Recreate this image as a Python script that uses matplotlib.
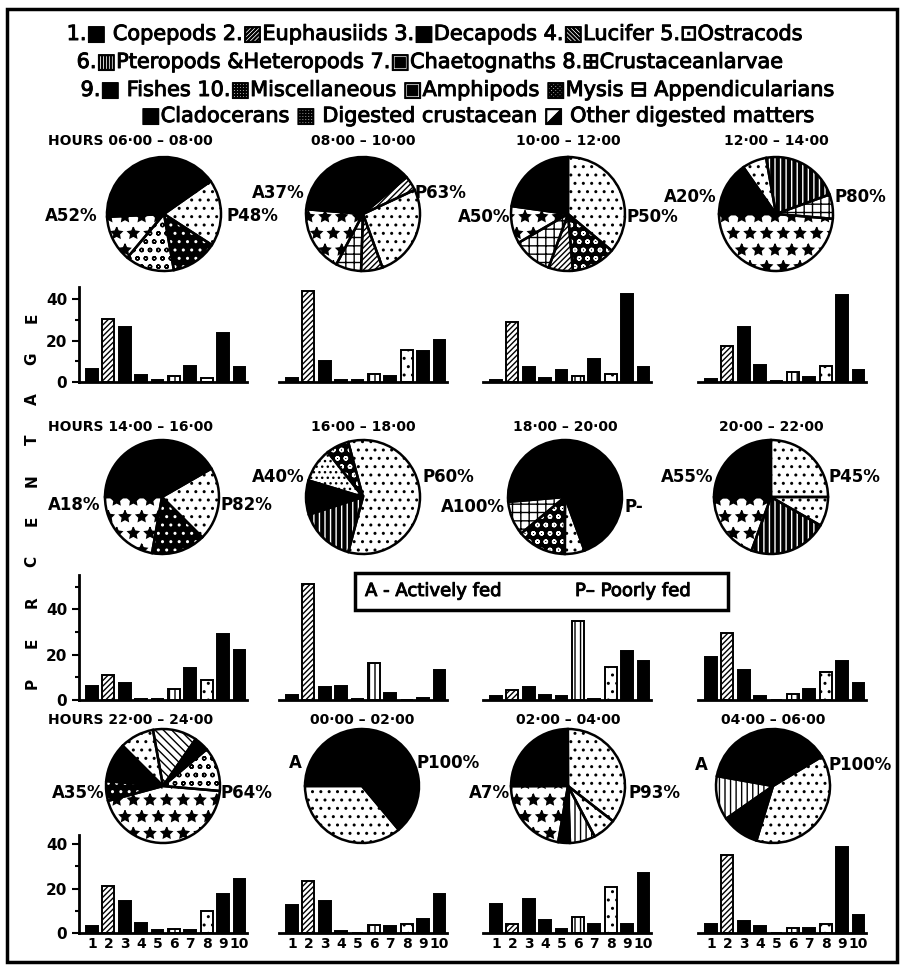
# Diet composition by 2-hour window: pie (A/P feeding) + bar chart of food items
import matplotlib
matplotlib.use("Agg")
import matplotlib.pyplot as plt
import matplotlib.patheffects as pe
from matplotlib.patches import Rectangle

plt.rcParams['font.family'] = ['DejaVu Sans']
plt.rcParams['hatch.linewidth'] = 1.0

W, H = 902, 967

# ---- text ----
legend_lines = [
    "1.■ Copepods 2.▨Euphausiids 3.■Decapods 4.▧Lucifer 5.⊡Ostracods",
    "6.▥Pteropods &Heteropods 7.▣Chaetognaths 8.⊞Crustaceanlarvae",
    "9.■ Fishes 10.▦Miscellaneous ▣Amphipods ▩Mysis ⊟ Appendicularians",
    "■Cladocerans ▦ Digested crustacean ◪ Other digested matters",
]
hours = ["HOURS 06·00 – 08·00", "08·00 – 10·00", "10·00 – 12·00", "12·00 – 14·00",
         "HOURS 14·00 – 16·00", "16·00 – 18·00", "18·00 – 20·00", "20·00 – 22·00",
         "HOURS 22·00 – 24·00", "00·00 – 02·00", "02·00 – 04·00", "04·00 – 06·00"]
active = ["A52%", "A37%", "A50%", "A20%", "A18%", "A40%", "A100%", "A55%",
          "A35%", "A", "A7%", "A"]
poor = ["P48%", "P63%", "P50%", "P80%", "P82%", "P60%", "P-", "P45%",
        "P64%", "P100%", "P93%", "P100%"]
categories = ["1", "2", "3", "4", "5", "6", "7", "8", "9", "10"]

# ---- bar values (% of items 1..10) ----
bars_0608 = [6.4, 30.5, 26.5, 3.5, 1, 2.9, 7.7, 2, 23.6, 7.2]
bars_0810 = [2, 44, 10, 1, 1, 4, 2.7, 15.6, 15, 20.4]
bars_1012 = [1, 29, 7, 2, 6, 2.7, 11, 3.7, 42.5, 7]
bars_1214 = [1.3, 17.3, 26.5, 8, 0.5, 4.8, 2.4, 7.7, 41.7, 5.6]
bars_1416 = [6, 11, 7.5, 0.3, 0.3, 5, 14, 9, 29, 22]
bars_1618 = [2.4, 51, 5.6, 6.3, 0.5, 16.5, 3, 0.2, 0.7, 13]
bars_1820 = [1.9, 4.4, 5.6, 2.4, 1.9, 35, 0.3, 14.4, 21.8, 17]
bars_2022 = [18.8, 29.5, 13.2, 1.9, 0.2, 2.6, 4.9, 12.2, 17, 7.4]
bars_2224 = [3, 21, 14.6, 4.7, 1.5, 2, 1.5, 10, 17.6, 24.5]
bars_0002 = [12.7, 23.3, 14.5, 1, 0.2, 3.5, 3, 4, 6.5, 17.6]
bars_0204 = [13, 4.2, 15.3, 5.8, 1.7, 7.3, 3.9, 20.6, 3.9, 27]
bars_0406 = [4.2, 35, 5.2, 3.2, 0.2, 2.4, 2.1, 4.2, 38.8, 8.2]
bar_sets = [bars_0608, bars_0810, bars_1012, bars_1214, bars_1416, bars_1618,
            bars_1820, bars_2022, bars_2224, bars_0002, bars_0204, bars_0406]

# ---- pie shares (%), counter-clockwise from start angle ----
pie_0608 = [13.9, 13.1, 18.9, 41.1, 13.1]
pie_0810 = [26.4, 4.2, 37.5, 18.6, 7.2, 6.1]
pie_1012 = [36.1, 22.8, 10.6, 11.1, 6.9, 12.5]
pie_1214 = [48.6, 6.9, 22.2, 6.9, 15.3]
pie_1416 = [20.8, 41.7, 22.2, 15.3]
pie_1618 = [58.3, 6.4, 9.7, 9.7, 15.8]
pie_1820 = [70.8, 9.7, 13.9, 5.6]
pie_2022 = [25, 25, 19.4, 22.2, 8.3]
pie_2224 = [12.5, 4.2, 12.5, 9.7, 11.1, 5.6, 44.4]
pie_0002 = [63.9, 36.1]
pie_0204 = [35.6, 25, 22.2, 3.3, 7.2, 6.7]
pie_0406 = [38.6, 12.5, 10.6, 38.3]
pie_sets = [pie_0608, pie_0810, pie_1012, pie_1214, pie_1416, pie_1618,
            pie_1820, pie_2022, pie_2224, pie_0002, pie_0204, pie_0406]
pie_fills = [
    ['circles', 'speckle', 'dots', 'black', 'stars'],
    ['dots', 'hatch', 'black', 'stars', 'grid', 'hatch'],
    ['dots', 'black', 'stars', 'grid', 'hatch', 'checker'],
    ['stars', 'grid', 'wavy', 'dots', 'black'],
    ['dots', 'black', 'stars', 'speckle'],
    ['dots', 'checker', 'densedots', 'black', 'wavy'],
    ['black', 'grid', 'checker', 'dots'],
    ['dots', 'black', 'stars', 'wavy', 'dots'],
    ['circles', 'black', 'bhatch', 'dots', 'black', 'speckle', 'stars'],
    ['black', 'dots'],
    ['dots', 'black', 'stars', 'black', 'vlines', 'dots'],
    ['black', 'vlines', 'black', 'dots'],
]
pie_start = [-130, -70, -40, 180, -45, -105, -70, 0, -5, -50, -38, 31]

styles = {
    'black': ('black', None, 'black'),
    'dots': ('white', '..', 'black'),
    'densedots': ('white', '...', 'black'),
    'stars': ('white', '*', 'black'),
    'circles': ('white', 'oo', 'black'),
    'grid': ('white', '++', 'black'),
    'hatch': ('white', '//////', 'black'),
    'bhatch': ('white', '\\\\\\\\', 'black'),
    'wavy': ('black', '|||', 'white'),
    'vlines': ('white', '|||', 'black'),
    'speckle': ('black', '..', 'white'),
    'checker': ('black', 'oo', 'white'),
}
bar_face = ['black', 'white', 'black', 'black', 'black', 'white', 'black', 'white', 'black', 'black']
bar_hatch = [None, '//////', None, None, None, '|||', None, '..', None, None]

# ---- layout (pixels) ----
pie_cx = [[164, 363, 568, 776], [162, 363, 565, 771], [163, 362, 568, 773]]
pie_cy = [214, 497, 786]
R = 57
title_y = [141, 427, 720]
a_pos = [(98, 216), (305, 193), (510, 217), (717, 197),
         (100, 505), (305, 477), (505, 507), (713, 477),
         (105, 793), (302, 763), (510, 793), (708, 765)]
p_pos = [(227, 216), (415, 193), (627, 217), (834, 197),
         (220, 505), (422, 477), (625, 507), (828, 477),
         (220, 793), (417, 763), (628, 793), (828, 765)]
bar_rows = [(382, 2.075, 46), (700, 2.27, 55), (933, 2.22, 44)]  # baseline, px/unit, ymax
bar_start = [86, 286, 490, 705]
pitch = 16.4
bold_fx = [pe.withStroke(linewidth=0.7, foreground='black')]


def box(x, y, w, h):
    return [x / W, 1 - (y + h) / H, w / W, h / H]


fig = plt.figure(figsize=(W / 100, H / 100), dpi=100)
fig.patches.append(Rectangle((7 / W, 1 - 962 / H), 890 / W, 953 / H, transform=fig.transFigure,
                             fill=False, edgecolor='black', linewidth=2.5))

legend_y = [34, 62, 90, 116]
legend_x = [435, 430, 458, 478]
for txt, x, y in zip(legend_lines, legend_x, legend_y):
    fig.text(x / W, 1 - y / H, txt, ha='center', va='center', fontsize=15, path_effects=bold_fx)

# pies
for i, shares in enumerate(pie_sets):
    r, c = divmod(i, 4)
    cx, cy = pie_cx[r][c], pie_cy[r]
    m = 1.04
    ax = fig.add_axes(box(cx - R * m, cy - R * m, 2 * R * m, 2 * R * m))
    st = [styles[p] for p in pie_fills[i]]
    wedges, _ = ax.pie(shares, startangle=pie_start[i], colors=[s[0] for s in st],
                       wedgeprops=dict(linewidth=0))
    for w, (fc, hatch, hc) in zip(wedges, st):
        if hatch:
            w.set_edgecolor(hc)
            w.set_hatch(hatch)
    ax.pie(shares, startangle=pie_start[i], colors=['none'] * len(shares),
           wedgeprops=dict(linewidth=1.8, edgecolor='black', fill=False))
    ax.set_xlim(-m, m)
    ax.set_ylim(-m, m)
    tx = 48 if c == 0 else cx
    fig.text(tx / W, 1 - title_y[r] / H, hours[i], ha='left' if c == 0 else 'center',
             va='center', fontsize=10, fontweight='bold')
    fig.text(a_pos[i][0] / W, 1 - a_pos[i][1] / H, active[i], ha='right', va='center',
             fontsize=12, fontweight='bold')
    fig.text(p_pos[i][0] / W, 1 - p_pos[i][1] / H, poor[i], ha='left', va='center',
             fontsize=12, fontweight='bold')

# bar charts
x = list(range(1, 11))
for i, vals in enumerate(bar_sets):
    r, c = divmod(i, 4)
    base, ppu, ymax = bar_rows[r]
    ax = fig.add_axes(box(bar_start[c] - 7, base - ymax * ppu, 10.25 * pitch, ymax * ppu))
    bars = ax.bar(x, vals, width=0.72, color=bar_face, edgecolor='black', linewidth=1.4)
    for b, h in zip(bars, bar_hatch):
        b.set_clip_on(False)
        if h:
            b.set_hatch(h)
    ax.set_xlim(0.21, 10.46)
    ax.set_ylim(0, ymax)
    ax.patch.set_visible(False)
    ax.spines['top'].set_visible(False)
    ax.spines['right'].set_visible(False)
    ax.spines['bottom'].set_linewidth(2)
    if c == 0:
        ax.spines['left'].set_linewidth(2)
        ax.set_yticks([0, 20, 40])
        ax.set_yticks([10, 30, 50] if ymax > 50 else [10, 30], minor=True)
        ax.tick_params(axis='y', which='both', direction='out', width=1.5, length=5, labelsize=11)
        ax.tick_params(axis='y', which='minor', length=3)
        for lab in ax.get_yticklabels():
            lab.set_fontweight('bold')
    else:
        ax.spines['left'].set_visible(False)
        ax.set_yticks([])
    if r == 2:
        ax.set_xticks(x)
        ax.set_xticklabels(categories, fontsize=10, fontweight='bold')
        ax.tick_params(axis='x', length=0, pad=3)
    else:
        ax.set_xticks([])

# y label, letters stacked
word = "PERCENTAGE"
for k, ch in enumerate(word):
    y = 683 - k * (683 - 318) / (len(word) - 1)
    fig.text(32 / W, 1 - y / H, ch, rotation=90, ha='center', va='center',
             fontsize=11, fontweight='bold')

# A / P key box
fig.patches.append(Rectangle((355 / W, 1 - 610 / H), 373 / W, 37 / H, transform=fig.transFigure,
                             fill=False, edgecolor='black', linewidth=2.5))
fig.text(365 / W, 1 - 591 / H, "A - Actively fed", ha='left', va='center', fontsize=13,
         path_effects=bold_fx)
fig.text(575 / W, 1 - 591 / H, "P– Poorly fed", ha='left', va='center', fontsize=13,
         path_effects=bold_fx)

fig.savefig("out.png", dpi=100)
